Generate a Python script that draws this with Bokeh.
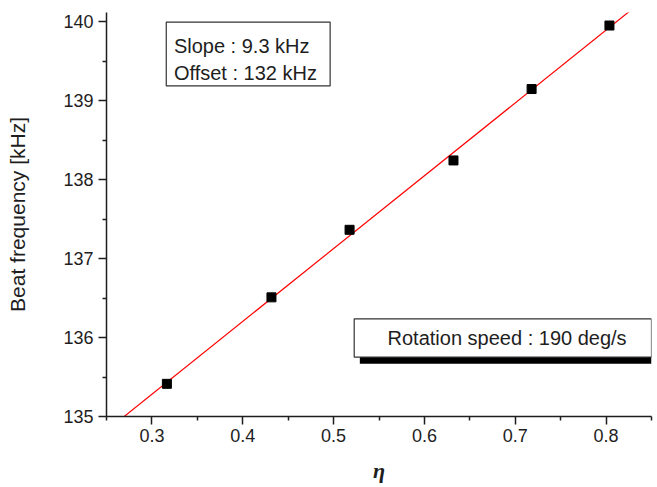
import numpy as np
from bokeh.plotting import figure
from bokeh.models import Range1d, FixedTicker, Label, BoxAnnotation
from bokeh.embed import file_html
from bokeh.resources import INLINE

# data
eta = [0.3165, 0.4316, 0.5176, 0.632, 0.718, 0.8037]
beat_khz = [135.414, 136.51, 137.366, 138.245, 139.15, 139.955]
x_major = [0.3, 0.4, 0.5, 0.6, 0.7, 0.8]
x_minor = [0.25, 0.35, 0.45, 0.55, 0.65, 0.75, 0.85]
y_major = [135, 136, 137, 138, 139, 140]
y_minor = [135.5, 136.5, 137.5, 138.5, 139.5]
fit_text = ["Slope : 9.3 kHz", "Offset : 132 kHz"]
speed_text = "Rotation speed : 190 deg/s"

FONT = "Liberation Sans"
TXT = "#1e1e1e"

p = figure(width=655, height=486, output_backend="svg", toolbar_location=None,
           x_range=Range1d(0.25, 0.85), y_range=Range1d(135, 140.12),
           min_border_left=106, min_border_right=4, min_border_top=12, min_border_bottom=70)
p.outline_line_color = None
p.xgrid.visible = False
p.ygrid.visible = False
p.background_fill_color = "white"
p.border_fill_color = "white"

p.xaxis.ticker = FixedTicker(ticks=x_major, minor_ticks=x_minor)
p.yaxis.ticker = FixedTicker(ticks=y_major, minor_ticks=y_minor)
for ax in (p.xaxis[0], p.yaxis[0]):
    ax.axis_line_color = TXT
    ax.axis_line_width = 1.5
    ax.major_tick_line_color = TXT
    ax.minor_tick_line_color = TXT
    ax.major_tick_line_width = 1.5
    ax.minor_tick_line_width = 1.5
    ax.major_tick_in = 0
    ax.major_tick_out = 8
    ax.minor_tick_in = 0
    ax.minor_tick_out = 4
    ax.major_label_text_font = FONT
    ax.major_label_text_font_size = "18px"
    ax.major_label_text_color = TXT
    ax.axis_label_text_color = TXT

p.xaxis.axis_label = "η"
p.xaxis.axis_label_text_font = "Liberation Serif"
p.xaxis.axis_label_text_font_style = "bold italic"
p.xaxis.axis_label_text_font_size = "22px"
p.xaxis.major_label_standoff = 4
p.xaxis.axis_label_standoff = 13

p.yaxis.axis_label = "Beat frequency [kHz]"
p.yaxis.axis_label_text_font = FONT
p.yaxis.axis_label_text_font_style = "normal"
p.yaxis.axis_label_text_font_size = "21px"
p.yaxis.major_label_standoff = 5
p.yaxis.axis_label_standoff = 31

# linear fit
slope, offset = np.polyfit(eta, beat_khz, 1)
xs = np.array([0.25, 0.85])
p.line(xs, offset + slope * xs, line_color="red", line_width=1.2)

p.scatter(eta, beat_khz, marker="square", size=9, fill_color="black", line_color="black")

# fit parameters box
p.add_layout(BoxAnnotation(left=0.3158, right=0.4962, bottom=139.19, top=139.999,
                           fill_color="white", fill_alpha=1.0,
                           line_color="#333333", line_alpha=1.0, line_width=1.2,
                           level="annotation"))
for t, yb in zip(fit_text, [139.69, 139.352]):
    p.add_layout(Label(x=0.3242, y=yb, text=t, text_font=FONT, text_font_size="20px",
                       text_color=TXT, text_baseline="alphabetic", text_align="left",
                       level="overlay"))

# rotation speed box with shadow
p.add_layout(BoxAnnotation(left=0.5289, right=0.85, bottom=135.668, top=135.76,
                           fill_color="black", fill_alpha=1.0, line_color=None, level="annotation"))
p.add_layout(BoxAnnotation(left=0.5227, right=0.85, bottom=135.753, top=136.238,
                           fill_color="white", fill_alpha=1.0,
                           line_color="#333333", line_alpha=1.0, line_width=1.2,
                           level="annotation"))
p.add_layout(Label(x=0.691, y=135.998, text=speed_text, text_font=FONT, text_font_size="20px",
                   text_color=TXT, text_baseline="middle", text_align="center", level="overlay"))

open("out.html", "w").write(file_html(p, INLINE))
